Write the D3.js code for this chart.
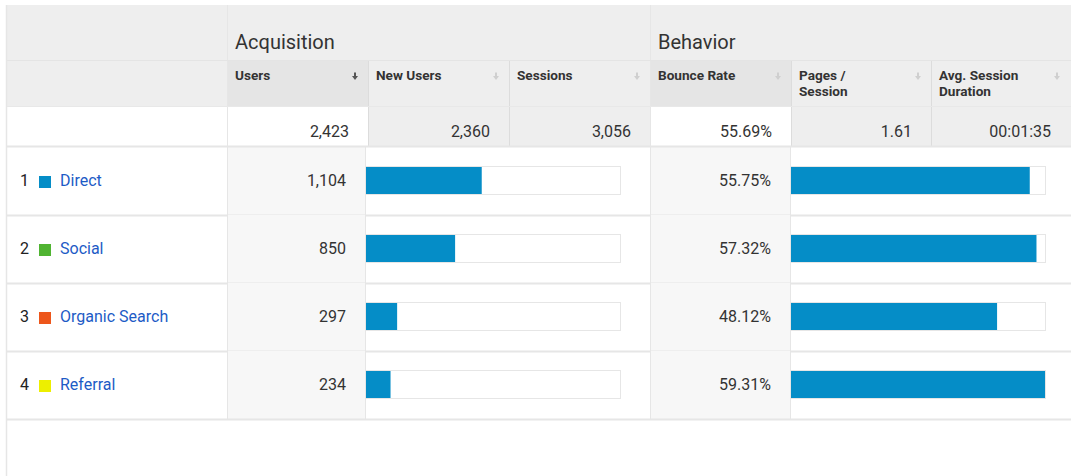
<!DOCTYPE html>
<html><head><meta charset="utf-8">
<script src="https://cdn.jsdelivr.net/npm/d3@7"></script>
<style>html,body{margin:0;padding:0;background:#fff;overflow:hidden}svg{display:block;font-family:Roboto,"Noto Sans",sans-serif}</style>
</head><body><svg id="c" width="1071" height="476"></svg>
<script>
const channels = ["Direct", "Social", "Organic Search", "Referral"];
const channelColors = ["#058dc7", "#50b432", "#ed561b", "#edef00"];
const users = [1104, 850, 297, 234];
const bounceRates = [55.75, 57.32, 48.12, 59.31];
const groups = ["Acquisition", "Behavior"];
const headers = [["Users"], ["New Users"], ["Sessions"], ["Bounce Rate"], ["Pages /", "Session"], ["Avg. Session", "Duration"]];
const totals = ["2,423", "2,360", "3,056", "55.69%", "1.61", "00:01:35"];
const totalUsers = 2423;

const svg = d3.select("#c");
const line = "#e6e6e6";
const colX = [228, 369, 510, 651, 792, 932, 1071];
const leftX = 7;
const yTop = 5, yH1 = 61, yH2 = 107, yRows = 147, rowH = 68;

svg.append("rect").attr("x", leftX).attr("y", yTop).attr("width", 1071 - leftX).attr("height", yH1 - yTop).attr("fill", "#eeeeee");
svg.append("rect").attr("x", leftX).attr("y", yH1).attr("width", 1071 - leftX).attr("height", yH2 - yH1).attr("fill", "#eeeeee");
[0, 3].forEach(i => svg.append("rect").attr("x", colX[i]).attr("y", yH1).attr("width", colX[i + 1] - colX[i] - 1).attr("height", yH2 - yH1).attr("fill", "#e5e5e5"));
svg.append("rect").attr("x", leftX).attr("y", yH2).attr("width", 1071 - leftX).attr("height", yRows - yH2).attr("fill", "#eeeeee");
svg.append("rect").attr("x", leftX).attr("y", yH2).attr("width", colX[0] - leftX).attr("height", yRows - yH2).attr("fill", "#fff");
[0, 3].forEach(i => svg.append("rect").attr("x", colX[i]).attr("y", yH2).attr("width", colX[i + 1] - colX[i] - 1).attr("height", yRows - yH2).attr("fill", "#fff"));

svg.selectAll("text.grp").data(groups).join("text").attr("class", "grp")
  .attr("x", (d, i) => [colX[0], colX[3]][i] + 7).attr("y", 49)
  .attr("font-size", 20).attr("fill", "#333").text(d => d);
[colX[0], colX[3]].forEach(x => svg.append("line").attr("x1", x - 0.5).attr("x2", x - 0.5).attr("y1", yTop).attr("y2", yRows).attr("stroke", line));
[colX[1], colX[2], colX[4], colX[5]].forEach(x => svg.append("line").attr("x1", x - 0.5).attr("x2", x - 0.5).attr("y1", yH1).attr("y2", yRows).attr("stroke", "#dcdcdc"));
svg.append("line").attr("x1", leftX).attr("x2", 1071).attr("y1", yH1 - 0.5).attr("y2", yH1 - 0.5).attr("stroke", "#e4e4e4");
svg.append("line").attr("x1", leftX).attr("x2", 1071).attr("y1", yH2 - 0.5).attr("y2", yH2 - 0.5).attr("stroke", "#e8e8e8");

headers.forEach((h, i) => {
  const t = svg.append("text").attr("x", colX[i] + 7).attr("y", 80).attr("font-size", 13.6).attr("font-weight", "bold").attr("fill", "#333");
  h.forEach((s, k) => t.append("tspan").attr("x", colX[i] + 7).attr("dy", k === 0 ? 0 : 16).text(s));
  // sort arrow
  svg.append("path").attr("transform", `translate(${colX[i + 1] - 14},0)`)
    .attr("d", "M-1,72.5H1V76H3L0,80L-3,76H-1Z")
    .attr("fill", i === 0 ? "#555" : "#cfcfcf");
});
totals.forEach((v, i) => svg.append("text").attr("x", colX[i + 1] - 20).attr("y", 137).attr("text-anchor", "end").attr("font-size", 16).attr("fill", "#333").text(v));

const xUsers = d3.scaleLinear().domain([0, totalUsers]).range([0, 254]);
const xBounce = d3.scaleLinear().domain([0, d3.max(bounceRates)]).range([0, 254]);
const rows = svg.selectAll("g.row").data(channels).join("g").attr("class", "row")
  .attr("transform", (d, i) => `translate(0,${yRows + i * rowH})`);
rows.append("rect").attr("x", colX[0]).attr("y", 0).attr("width", 366 - colX[0]).attr("height", rowH).attr("fill", "#f7f7f7");
rows.append("rect").attr("x", colX[3]).attr("y", 0).attr("width", 791 - colX[3]).attr("height", rowH).attr("fill", "#f7f7f7");
rows.append("line").attr("x1", leftX).attr("x2", 1071).attr("y1", rowH + 0.5).attr("y2", rowH + 0.5).attr("stroke", line).attr("stroke-width", 2);
[colX[0], 366, colX[3], 791].forEach(x => rows.append("line").attr("x1", x - 0.5).attr("x2", x - 0.5).attr("y1", 0).attr("y2", rowH).attr("stroke", line));
rows.append("text").attr("x", 20).attr("y", 39).attr("font-size", 16).attr("fill", "#222").text((d, i) => i + 1);
rows.append("rect").attr("x", 39).attr("y", 29).attr("width", 12).attr("height", 12).attr("fill", (d, i) => channelColors[i]);
rows.append("text").attr("x", 60).attr("y", 39).attr("font-size", 16).attr("fill", "#1d5bc6").text(d => d);
rows.append("text").attr("x", 346).attr("y", 39).attr("text-anchor", "end").attr("font-size", 16).attr("fill", "#333").text((d, i) => d3.format(",")(users[i]));
rows.append("text").attr("x", 771).attr("y", 39).attr("text-anchor", "end").attr("font-size", 16).attr("fill", "#333").text((d, i) => bounceRates[i].toFixed(2) + "%");
rows.append("rect").attr("x", 366.5).attr("y", 19.5).attr("width", 254).attr("height", 28).attr("fill", "#fff").attr("stroke", "#e6e6e6");
rows.append("rect").attr("x", 366).attr("y", 20).attr("width", (d, i) => xUsers(users[i])).attr("height", 27).attr("fill", "#058dc7");
rows.append("rect").attr("x", 791.5).attr("y", 19.5).attr("width", 254).attr("height", 28).attr("fill", "#fff").attr("stroke", "#e6e6e6");
rows.append("rect").attr("x", 791).attr("y", 20).attr("width", (d, i) => xBounce(bounceRates[i])).attr("height", 27).attr("fill", "#058dc7");

svg.append("line").attr("x1", leftX).attr("x2", 1071).attr("y1", yRows - 0.5).attr("y2", yRows - 0.5).attr("stroke", line).attr("stroke-width", 2);
svg.append("line").attr("x1", leftX - 0.5).attr("x2", leftX - 0.5).attr("y1", yTop).attr("y2", 476).attr("stroke", line).attr("stroke-width", 1.5);
</script></body></html>
